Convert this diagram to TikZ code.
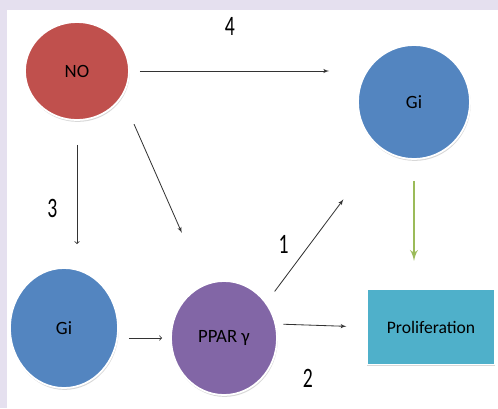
\documentclass[tikz,border=0pt]{standalone}
\usepackage{fontspec}
\setmainfont{Carlito}
\usetikzlibrary{positioning,arrows,calc,shapes,shadows}
\definecolor{noRed}{HTML}{C0504D}
\definecolor{giBlue}{HTML}{5385C0}
\definecolor{pparPurple}{HTML}{8266A6}
\definecolor{prolifCyan}{HTML}{4FB0CA}
\definecolor{actGreen}{HTML}{9BBB59}
\definecolor{frameLilac}{HTML}{E5E0EF}
\tikzset{
    >=latex',
    molecule/.style = {
        draw=white,
        shape=ellipse,
        line width=1.5pt,
        inner sep=0pt,
        font=\fontsize{16}{18}\selectfont,
        drop shadow={opacity=0.3, shadow xshift=0.6pt, shadow yshift=-1.6pt}
    },
    outcome/.style = {
        draw=white,
        shape=rectangle,
        minimum width=3.84cm,
        minimum height=2.25cm,
        line width=1pt,
        fill=prolifCyan,
        font=\fontsize{15}{17}\selectfont,
        drop shadow={opacity=0.3, shadow xshift=0pt, shadow yshift=-1.4pt}
    },
    route/.style = {
        font=\fontsize{24}{26}\selectfont,
        xscale=0.7,
        transform shape
    },
    link/.style = {
        draw,
        line width=0.7pt,
        draw=black!80
    },
}

\begin{document}
\begin{tikzpicture}[x=0.03cm,y=-0.03cm]
            \fill[frameLilac] (0,0) rectangle (498,408);
            \fill[white] (7,10) rectangle (498,408);
            \useasboundingbox (0,0) rectangle (498,408);

            \node[molecule, fill=noRed, minimum width=3.12cm, minimum height=2.94cm] (noxide) at (77,71) {NO};
            \node[molecule, fill=giBlue, minimum width=3.36cm, minimum height=3.42cm] (gitop) at (414,102) {Gi};
            \node[molecule, fill=giBlue, minimum width=3.24cm, minimum height=3.6cm] (gibot) at (64,328) {Gi};
            \node[molecule, fill=pparPurple, minimum width=3.18cm, minimum height=3.42cm] (ppar) at (224,338) {PPAR γ};
            \node[outcome] (prolif) at (431,327) {Proliferation};

            \path[link, ->, shorten <=0.3cm, shorten >=0.84cm] (noxide.east) -- (noxide.east -| gitop.west) node [pos=0.44, above=0.95cm, route] {4};
            \path[link, -to, shorten <=0.72cm, shorten >=0.69cm] (noxide.south) -- (noxide.south |- gibot.north) node [pos=0.6, left=0.5cm, route] {3};
            \path[link, ->, shorten <=0.89cm, shorten >=1.68cm] (noxide.-30) -- (ppar.110);
            \path[link, -to, shorten <=0.3cm, shorten >=0.24cm] (gibot.east |- ppar.west) -- (ppar.west);
            \path[link, ->, shorten <=0.41cm, shorten >=1.88cm] (ppar.40) -- (gitop.235) node [pos=0.38, left=0.55cm, route] {1};
            \path[link, ->, shorten <=0.21cm, shorten >=0.6cm] (ppar.15) -- (prolif.west) node [pos=0.35, below=1.2cm, route] {2};
            \path[draw=actGreen, line width=2.2pt, ->, shorten <=0.63cm, shorten >=0.84cm] (gitop.south) -- (gitop.south |- prolif.north);

        \end{tikzpicture}
\end{document}
